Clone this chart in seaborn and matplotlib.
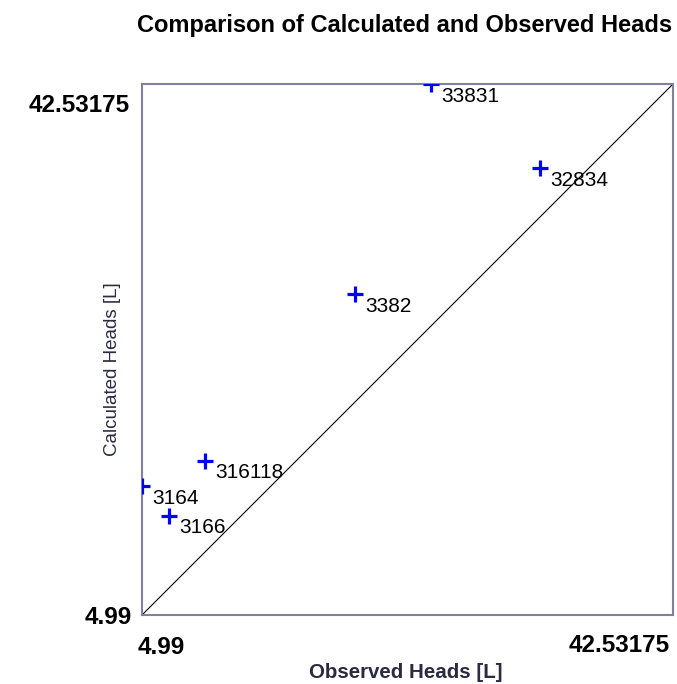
import matplotlib
matplotlib.use("Agg")
import matplotlib.pyplot as plt
import matplotlib.transforms as mtransforms
import seaborn as sns
import pandas as pd

# ---- data ----
well_names = ["33831", "32834", "3382", "316118", "3164", "3166"]
observed_heads = [25.42, 33.13, 20.05, 9.44, 4.99, 6.90]
calculated_heads = [42.53175, 36.59, 27.68, 15.88, 14.11, 11.99]
axis_min = 4.99
axis_max = 42.53175
tick_labels = ["4.99", "42.53175"]

title_text = "Comparison of Calculated and Observed Heads"
x_label = "Observed Heads [L]"
y_label = "Calculated Heads [L]"

df = pd.DataFrame({"Observed": observed_heads, "Calculated": calculated_heads, "Name": well_names})

sns.set_style("white")
plt.rcParams["font.family"] = ["Liberation Sans", "DejaVu Sans"]

fig = plt.figure(figsize=(6.77, 6.84), dpi=100)
ax = fig.add_axes([142 / 677, 1 - 615 / 684, 531 / 677, 531 / 684])

# 1:1 line
ax.plot([axis_min, axis_max], [axis_min, axis_max], color="black", linewidth=0.8, zorder=1)

sns.scatterplot(data=df, x="Observed", y="Calculated", marker="+", s=135,
                color="#0000ff", linewidth=2.3, ax=ax, zorder=3, legend=False)

for name, xo, yc in zip(well_names, observed_heads, calculated_heads):
    ax.annotate(name, xy=(xo, yc), xytext=(10, -12), textcoords="offset pixels",
                ha="left", va="center", fontsize=15, color="black",
                annotation_clip=False, zorder=4)

ax.set_xlim(axis_min, axis_max)
ax.set_ylim(axis_min, axis_max)
ax.set_xticks([])
ax.set_yticks([])
ax.set_xlabel("")
ax.set_ylabel("")
for sp in ax.spines.values():
    sp.set_color("#8080a0")
    sp.set_linewidth(1.5)
    sp.set_visible(True)

# tick labels (custom positioned like the reference)
xtrans = mtransforms.blended_transform_factory(ax.transData, ax.transAxes)
ytrans = mtransforms.blended_transform_factory(ax.transAxes, ax.transData)
tick_kw = dict(fontsize=17.5, fontweight="bold", color="black", textcoords="offset pixels",
               annotation_clip=False)
ax.annotate(tick_labels[0], xy=(axis_min, 0), xycoords=xtrans, xytext=(-4, -32),
            ha="left", va="center", **tick_kw)
ax.annotate(tick_labels[1], xy=(axis_max, 0), xycoords=xtrans, xytext=(-3, -30),
            ha="right", va="center", **tick_kw)
ax.annotate(tick_labels[0], xy=(0, axis_min), xycoords=ytrans, xytext=(-10, -2),
            ha="right", va="center", **tick_kw)
ax.annotate(tick_labels[1], xy=(0, axis_max), xycoords=ytrans, xytext=(-12, -22),
            ha="right", va="center", **tick_kw)

fig.text(405 / 677, 1 - 32 / 684, title_text, ha="center", va="baseline",
         fontsize=17, fontweight="bold", color="black")
fig.text(406 / 677, 1 - 673 / 684, x_label, ha="center", va="center",
         fontsize=14.8, fontweight="bold", color="#2a2a40")
fig.text(113 / 677, 1 - 369 / 684, y_label, ha="center", va="center", rotation=90,
         fontsize=13.5, color="#2a2a40")

fig.savefig("out.png", dpi=100)
